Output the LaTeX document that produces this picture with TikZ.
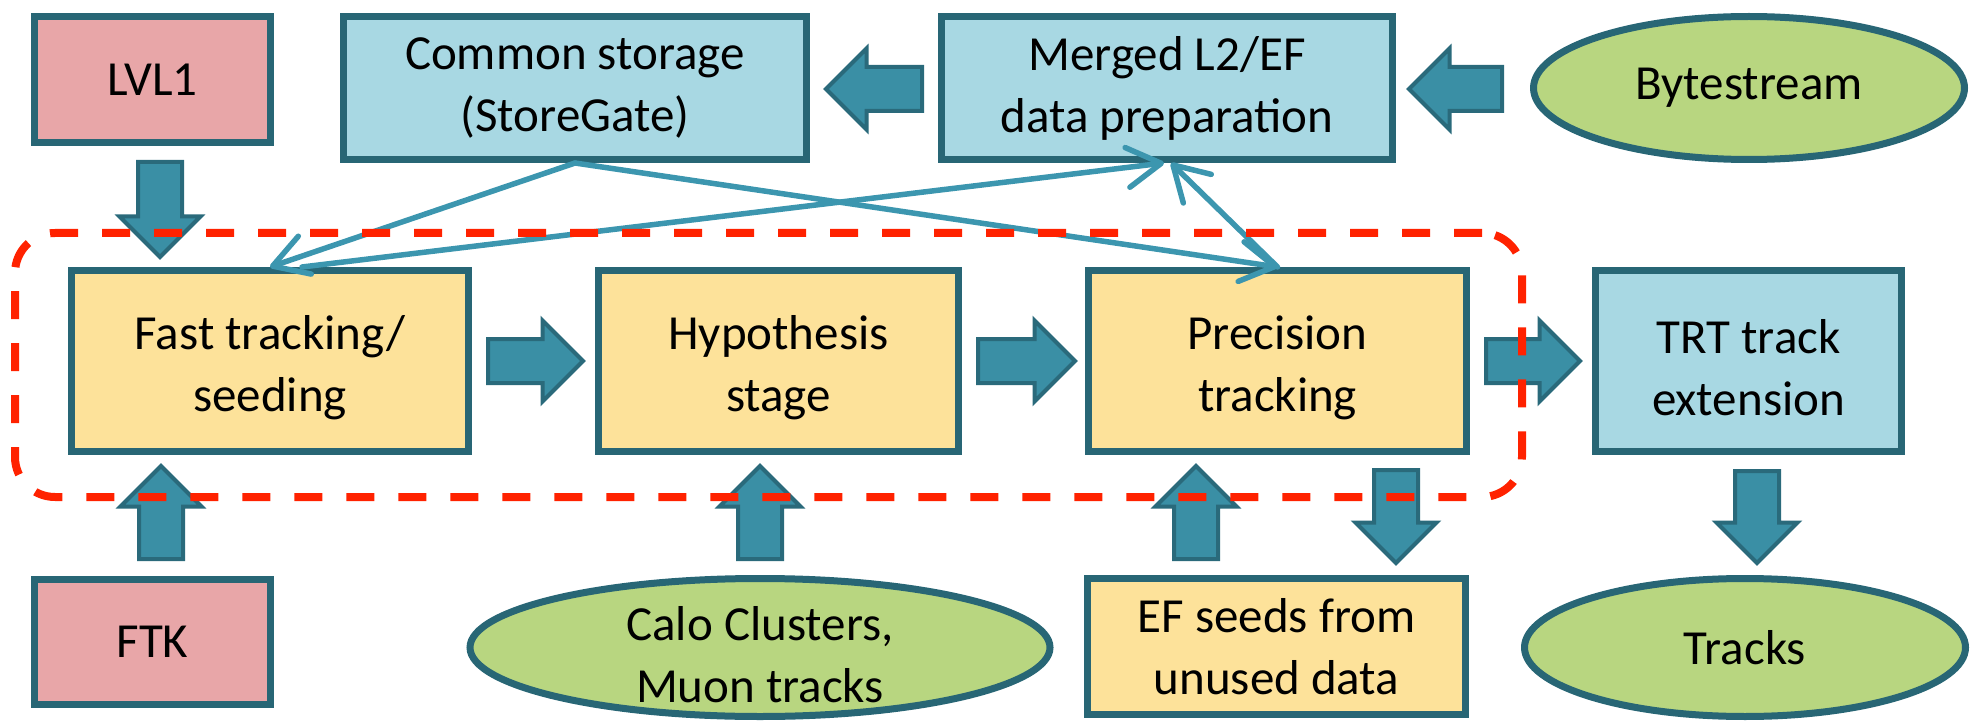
\documentclass[tikz,border=0pt]{standalone}
\usepackage{fontspec}
\setmainfont{Carlito}
\usetikzlibrary{shapes.geometric,shapes.arrows,arrows.meta,calc}
\definecolor{bord}{RGB}{40,102,117}
\definecolor{bluef}{RGB}{168,216,227}
\definecolor{pinkf}{RGB}{232,166,168}
\definecolor{yellf}{RGB}{253,226,154}
\definecolor{greenf}{RGB}{184,214,128}
\definecolor{arrf}{RGB}{58,143,165}
\definecolor{arrb}{RGB}{42,106,123}
\definecolor{thinc}{RGB}{60,150,175}
\definecolor{dashred}{RGB}{255,34,0}
\newcommand\liftline{\rule{0pt}{48pt}}
\tikzset{
  lbl/.style={align=center, inner sep=0pt, font=\fontsize{49}{62}\selectfont},
  box/.style={lbl, draw=bord, line width=7pt},
  bluebox/.style={box, fill=bluef},
  pinkbox/.style={box, fill=pinkf},
  yellbox/.style={box, fill=yellf},
  ell/.style={ellipse, draw=bord, line width=7pt, fill=greenf, inner sep=0pt},
  barrow/.style={single arrow, draw=arrb, fill=arrf, line width=4pt, inner sep=20pt,
    minimum width=77pt, single arrow head extend=18.5pt, single arrow tip angle=90,
    anchor=tail},
  conn/.style={draw=thinc, line width=5.5pt, line cap=round,
    -{Straight Barb[length=34pt, width=40pt, round]}},
  dashframe/.style={draw=dashred, line width=8pt, dash pattern=on 28pt off 24pt,
    rounded corners=40pt, inner sep=0pt}
}
\begin{document}
\begin{tikzpicture}[x=1pt,y=-1pt]
\useasboundingbox (0,0) rectangle (1971,722);
% top row
\node[pinkbox, minimum width=236pt, minimum height=126pt] (lvl1) at (152.5,79.5) {LVL1};
\node[bluebox, minimum width=463pt, minimum height=143pt] (common) at (575,88) {Common storage\\(StoreGate)};
\node[bluebox, minimum width=451pt, minimum height=143pt] (merged) at (1167,88) {Merged L2/EF\\data preparation};
\node[ell, minimum width=431pt, minimum height=143pt] (byte) at (1749,88) {};
\node[lbl] (bytet) at (byte.center) {Bytestream};
% middle row
\node[yellbox, minimum width=397pt, minimum height=181pt] (fast) at (270,361) {\liftline Fast tracking/\\seeding};
\node[yellbox, minimum width=360pt, minimum height=181pt] (hyp) at (778.5,361) {\liftline Hypothesis\\stage};
\node[yellbox, minimum width=378pt, minimum height=181pt] (prec) at (1277.5,361) {\liftline Precision\\tracking};
\node[bluebox, minimum width=306pt, minimum height=181pt] (trt) at (1748.5,361) {\liftline TRT track\\extension};
% bottom row
\node[pinkbox, minimum width=236pt, minimum height=125pt] (ftk) at (152.5,642) {FTK};
\node[ell, minimum width=580pt, minimum height=138pt] (calo) at (760,647.5) {};
\node[lbl] (calot) at (calo.center) {\liftline Calo Clusters,\\Muon tracks};
\node[yellbox, minimum width=378pt, minimum height=136pt] (ef) at (1276.5,646.5) {EF seeds from\\unused data};
\node[ell, minimum width=441pt, minimum height=138pt] (tracks) at (1745,647.5) {};
\node[lbl] (trackst) at (tracks.center) {Tracks};
% block arrows (placed by their tails)
\node[barrow, shape border rotate=270, minimum height=95pt] (a1) at (160,160) {};
\node[barrow, shape border rotate=90, minimum height=93pt] (a2) at (161,561) {};
\node[barrow, shape border rotate=90, minimum height=93pt] (a3) at (760,561) {};
\node[barrow, shape border rotate=90, minimum height=93pt] (a4) at (1196,561) {};
\node[barrow, shape border rotate=270, minimum height=93pt] (a5) at (1396,468) {};
\node[barrow, shape border rotate=270, minimum height=92pt] (a6) at (1757,469) {};
\node[barrow, minimum height=95pt] (a7) at (486,361) {};
\node[barrow, minimum height=97pt] (a8) at (976,361) {};
\node[barrow, minimum height=94pt] (a9) at (1484,361) {};
\node[barrow, shape border rotate=180, minimum height=96pt] (a10) at (924,89) {};
\node[barrow, shape border rotate=180, minimum height=93pt] (a11) at (1504,89) {};
% thin connectors
\draw[conn] (common.south) -- (fast.north);
\draw[conn] (common.south) -- (prec.north);
\draw[conn] ($(fast.north)+(32,0)$) -- ($(merged.south)+(-3,0)$);
\draw[conn] (prec.north) -- ($(merged.south)+(4,0)$);
% dashed frame
\node[dashframe, minimum width=1507pt, minimum height=264pt] (frame) at (768.5,365) {};
\end{tikzpicture}
\end{document}
